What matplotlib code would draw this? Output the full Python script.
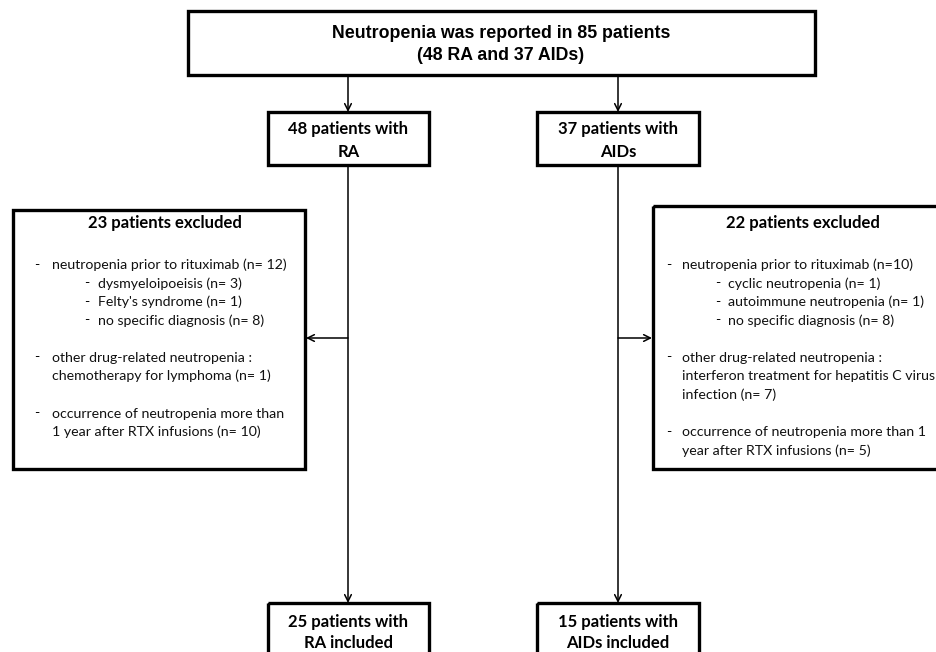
import matplotlib
matplotlib.use('Agg')
import matplotlib.pyplot as plt
from matplotlib.patches import Rectangle

# texts of the flowchart
top_lines = ['Neutropenia was reported in 85 patients', '(48 RA and 37 AIDs)']
mid_left = ['48 patients with', 'RA']
mid_right = ['37 patients with', 'AIDs']
bottom_left = ['25 patients with', 'RA included']
bottom_right = ['15 patients with', 'AIDs included']

excl_left_title = '23 patients excluded'
excl_left_main = ['neutropenia prior to rituximab (n= 12)',
                  'other drug-related neutropenia :\nchemotherapy for lymphoma (n= 1)',
                  'occurrence of neutropenia more than\n1 year after RTX infusions (n= 10)']
excl_left_sub = ['dysmyeloipoeisis (n= 3)', "Felty's syndrome (n= 1)", 'no specific diagnosis (n= 8)']

excl_right_title = '22 patients excluded'
excl_right_main = ['neutropenia prior to rituximab (n=10)',
                   'other drug-related neutropenia :\ninterferon treatment for hepatitis C virus\ninfection (n= 7)',
                   'occurrence of neutropenia more than 1\nyear after RTX infusions (n= 5)']
excl_right_sub = ['cyclic neutropenia (n= 1)', 'autoimmune neutropenia (n= 1)', 'no specific diagnosis (n= 8)']

fig = plt.figure(figsize=(9.36, 6.52), dpi=100)
ax = fig.add_axes([0, 0, 1, 1])
ax.set_xlim(0, 936)
ax.set_ylim(652, 0)
ax.axis('off')

BOLD = 'Lato'
BODY = 'Lato'
BODY_SIZE = 10.2


def box(x0, y0, x1, y1):
    ax.add_patch(Rectangle((x0, y0), x1 - x0, y1 - y0, fill=False, lw=2.4,
                           edgecolor='black', clip_on=True))


def arrow(x0, y0, x1, y1):
    ax.annotate('', xy=(x1, y1), xytext=(x0, y0),
                arrowprops=dict(arrowstyle='->', lw=1.1, color='black',
                                shrinkA=0, shrinkB=0, mutation_scale=12))


# top box
box(188, 11, 815, 75)
ax.text(501, 33, top_lines[0], ha='center', va='center', fontsize=12.8,
        fontweight='bold', family='Liberation Sans')
ax.text(501, 55, top_lines[1], ha='center', va='center', fontsize=12.8,
        fontweight='bold', family='Liberation Sans')

# middle and bottom boxes
xl, xr = 348, 618
for (x0, x1), lines, y0, y1, ys in [((268, 429), mid_left, 112, 165, (129, 152)),
                                    ((537, 699), mid_right, 112, 165, (129, 152)),
                                    ((268, 429), bottom_left, 603, 670, (622, 643)),
                                    ((537, 699), bottom_right, 603, 670, (622, 643))]:
    box(x0, y0, x1, y1)
    for t, y in zip(lines, ys):
        ax.text((x0 + x1) / 2, y, t, ha='center', va='center', fontsize=12,
                fontweight='bold', family=BOLD)

# connectors
arrow(xl, 75, xl, 112)
arrow(xr, 75, xr, 112)
arrow(xl, 165, xl, 603)
arrow(xr, 165, xr, 603)
arrow(xl, 338, 306, 338)
arrow(xr, 338, 652, 338)

# excluded boxes
box(13, 210, 305, 469)
box(653, 206, 960, 469)


def excluded(cx, title, mains, subs, dash_x, text_x, sdash_x, stext_x):
    ax.text(cx, 223, title, ha='center', va='center', fontsize=12,
            fontweight='bold', family=BOLD)
    step = 18.5
    y = 265
    for i, m in enumerate(mains):
        ax.text(dash_x, y, '-', ha='left', va='center', fontsize=BODY_SIZE, family=BODY)
        for k, part in enumerate(m.split('\n')):
            ax.text(text_x, y + k * step, part, ha='left', va='center',
                    fontsize=BODY_SIZE, family=BODY, color='#111111')
        if i == 0:
            for j, s in enumerate(subs):
                ys = y + (j + 1) * step
                ax.text(sdash_x, ys, '-', ha='left', va='center', fontsize=BODY_SIZE, family=BODY)
                ax.text(stext_x, ys, s, ha='left', va='center', fontsize=BODY_SIZE,
                        family=BODY, color='#111111')
            y = y + 4 * step + 18.5
        else:
            y = y + len(m.split('\n')) * step + 19


excluded(165, excl_left_title, excl_left_main, excl_left_sub, 34, 52, 84, 98)
excluded(803, excl_right_title, excl_right_main, excl_right_sub, 666, 682, 715, 728)

fig.savefig('out.png', dpi=100)
